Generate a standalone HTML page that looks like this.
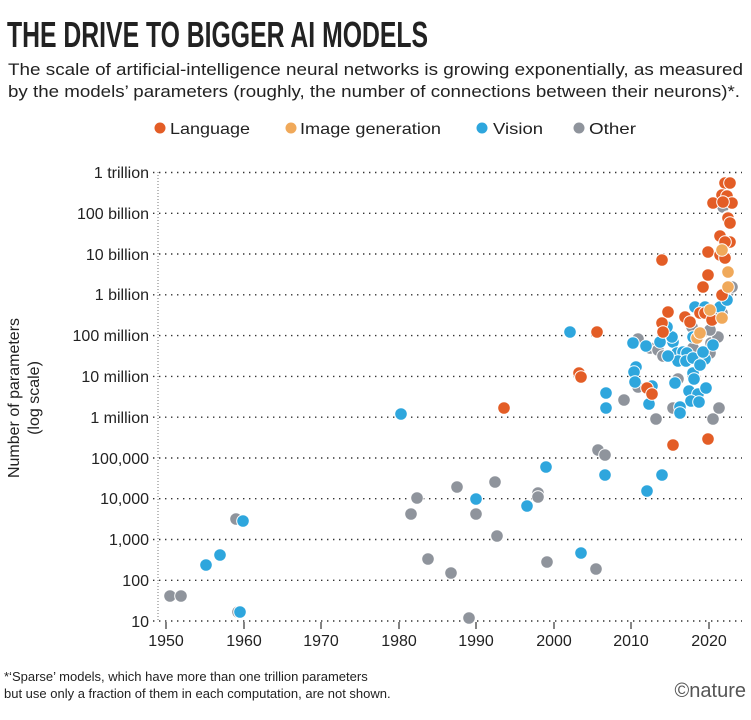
<!DOCTYPE html>
<html><head><meta charset="utf-8"><style>
body{margin:0;background:#fff;}
svg{display:block;font-family:"Liberation Sans",sans-serif;}
</style></head><body>
<svg width="751" height="720" viewBox="0 0 751 720" xmlns="http://www.w3.org/2000/svg">
<text x="7" y="47" font-family="Liberation Sans Narrow, Liberation Sans" font-weight="bold" font-size="36" fill="#222" textLength="421" lengthAdjust="spacingAndGlyphs">THE DRIVE TO BIGGER AI MODELS</text>
<text x="8" y="75" font-size="17" fill="#222" textLength="735" lengthAdjust="spacingAndGlyphs">The scale of artificial-intelligence neural networks is growing exponentially, as measured</text>
<text x="8" y="97" font-size="17" fill="#222" textLength="732" lengthAdjust="spacingAndGlyphs">by the models’ parameters (roughly, the number of connections between their neurons)*.</text>
<g font-size="16" fill="#222">
<circle cx="160" cy="128" r="5.5" fill="#e35d26"/><text x="170" y="134" textLength="80" lengthAdjust="spacingAndGlyphs">Language</text>
<circle cx="291" cy="128" r="5.5" fill="#f0a95a"/><text x="300" y="134" textLength="141" lengthAdjust="spacingAndGlyphs">Image generation</text>
<circle cx="482" cy="128" r="5.5" fill="#2ea6dd"/><text x="493" y="134" textLength="50" lengthAdjust="spacingAndGlyphs">Vision</text>
<circle cx="579" cy="128" r="5.5" fill="#8f949c"/><text x="589" y="134" textLength="47" lengthAdjust="spacingAndGlyphs">Other</text>
</g>
<g stroke="#333" stroke-width="1.4" stroke-dasharray="1.4 4.6">
<line x1="153" x2="742" y1="172.5" y2="172.5"/><line x1="153" x2="742" y1="213.3" y2="213.3"/>
<line x1="153" x2="742" y1="254" y2="254"/><line x1="153" x2="742" y1="294.8" y2="294.8"/>
<line x1="153" x2="742" y1="335.6" y2="335.6"/><line x1="153" x2="742" y1="376.4" y2="376.4"/>
<line x1="153" x2="742" y1="417.2" y2="417.2"/><line x1="153" x2="742" y1="458" y2="458"/>
<line x1="153" x2="742" y1="498.7" y2="498.7"/><line x1="153" x2="742" y1="539.5" y2="539.5"/>
<line x1="153" x2="742" y1="580.3" y2="580.3"/><line x1="153" x2="742" y1="621" y2="621"/>
</g>
<line x1="158" x2="158" y1="172" y2="621" stroke="#bbb" stroke-width="2" stroke-dasharray="1 2"/>
<g font-size="16" fill="#222" text-anchor="end">
<text x="149" y="178">1 trillion</text><text x="149" y="219">100 billion</text>
<text x="149" y="260">10 billion</text><text x="149" y="300">1 billion</text>
<text x="149" y="341">100 million</text><text x="149" y="382">10 million</text>
<text x="149" y="423">1 million</text><text x="149" y="464">100,000</text>
<text x="149" y="504">10,000</text><text x="149" y="545">1,000</text>
<text x="149" y="586">100</text><text x="149" y="627">10</text>
</g>
<g font-size="16" fill="#222" transform="rotate(-90)" text-anchor="middle">
<text x="-398" y="19">Number of parameters</text><text x="-398" y="39">(log scale)</text>
</g>
<g stroke="#333" stroke-width="1.2">
<line x1="166" x2="166" y1="622" y2="629"/><line x1="244" x2="244" y1="622" y2="629"/>
<line x1="321" x2="321" y1="622" y2="629"/><line x1="399" x2="399" y1="622" y2="629"/>
<line x1="476" x2="476" y1="622" y2="629"/><line x1="554" x2="554" y1="622" y2="629"/>
<line x1="631" x2="631" y1="622" y2="629"/><line x1="709" x2="709" y1="622" y2="629"/>
</g>
<g font-size="16" fill="#222" text-anchor="middle">
<text x="166" y="646">1950</text><text x="244" y="646">1960</text><text x="321" y="646">1970</text>
<text x="399" y="646">1980</text><text x="476" y="646">1990</text><text x="554" y="646">2000</text>
<text x="631" y="646">2010</text><text x="709" y="646">2020</text>
</g>
<g font-size="13" fill="#222">
<text x="4" y="681">*‘Sparse’ models, which have more than one trillion parameters</text>
<text x="4" y="698">but use only a fraction of them in each computation, are not shown.</text>
</g>
<text x="746" y="697" font-size="20" fill="#555" text-anchor="end">©nature</text>
<g stroke="#fff" stroke-width="1" id="pts"></g>
</svg>
<script>
var G="#8f949c",B="#2ea6dd",O="#e35d26",L="#f0a95a";
var pts=[
[G,[[170,596],[181,596],[236,519],[238,612],[411,514],[417,498],[428,559],[457,487],[451,573],[469,618],[476,514],[495,482],[497,536],[538,493],[538,497],[547,562],[596,569],[598,450],[605,455],[624,400],[638,339],[650,348],[658,350],[663,356],[678,353],[693,348],[710,353],[711,343],[718,337],[710,330],[692,327],[638,387],[656,419],[673,408],[678,379],[713,419],[719,408],[723,207],[728,217],[722,313],[728,292],[732,287],[717,315],[725,297]]],
[B,[[206,565],[220,555],[240,612],[243,521],[401,414],[476,499],[527,506],[546,467],[581,553],[570,332],[605,475],[647,491],[662,475],[633,343],[660,342],[673,342],[677,353],[683,352],[687,353],[678,361],[686,361],[693,358],[705,359],[693,337],[703,352],[695,307],[705,307],[720,307],[727,300],[636,367],[634,372],[635,382],[652,386],[675,383],[693,373],[694,379],[689,391],[698,394],[706,388],[691,401],[699,402],[680,407],[680,413],[649,404],[606,393],[606,408],[672,337],[667,327],[646,346],[668,356],[700,365],[713,345]]],
[O,[[504,408],[579,373],[581,377],[597,332],[673,445],[708,439],[725,183],[730,183],[722,195],[727,196],[713,203],[732,203],[723,202],[728,218],[730,223],[720,236],[730,242],[725,242],[708,252],[720,255],[725,258],[662,260],[708,275],[703,287],[722,295],[668,312],[685,317],[690,322],[700,313],[705,313],[712,320],[662,323],[663,332],[647,388],[652,394]]],
[L,[[728,272],[728,287],[710,310],[722,318],[697,338],[700,333],[722,250]]]
];
var g=document.getElementById("pts"),s="";
pts.forEach(function(c){c[1].forEach(function(p){s+='<circle cx="'+p[0]+'" cy="'+p[1]+'" r="6.3" fill="'+c[0]+'"/>';});});
g.innerHTML=s;
</script>
</body></html>
